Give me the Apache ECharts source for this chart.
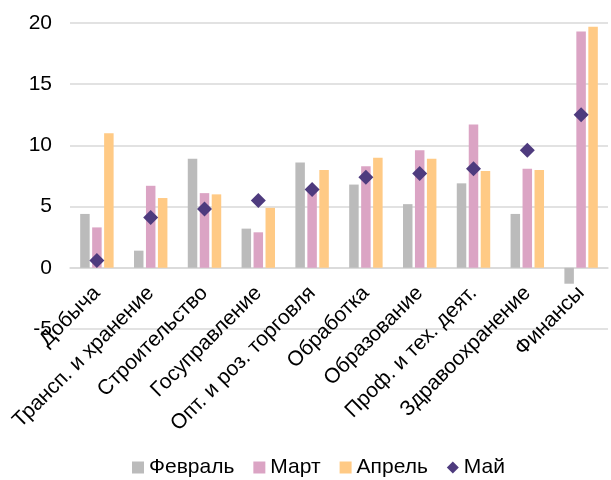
<!DOCTYPE html>
<html><head><meta charset="utf-8">
<script src="https://cdn.jsdelivr.net/npm/echarts@6/dist/echarts.min.js"></script>
<style>html,body{margin:0;padding:0;background:#fff}#c{width:611px;height:480px}</style>
</head><body><div id="c"></div>
<script>
const categories = ['Добыча','Трансп. и хранение','Строительство','Госуправление','Опт. и роз. торговля','Обработка','Образование','Проф. и тех. деят.','Здравоохранение','Финансы'];
const feb = [4.4, 1.4, 8.9, 3.2, 8.6, 6.8, 5.2, 6.9, 4.4, -1.3];
const mar = [3.3, 6.7, 6.1, 2.9, 6.2, 8.3, 9.6, 11.7, 8.1, 19.3];
const apr = [11.0, 5.7, 6.0, 4.9, 8.0, 9.0, 8.9, 7.9, 8.0, 19.7];
const may = [0.6, 4.1, 4.8, 5.5, 6.4, 7.4, 7.7, 8.1, 9.6, 12.5];
const yTicks = [-5, 0, 5, 10, 15, 20];

const font = 'Liberation Sans, Arial, sans-serif';
const gridTop = 23, gridBottom = 151, H = 480;
const plotH = H - gridTop - gridBottom;
const zeroOffset = plotH * (0 - yTicks[0]) / (yTicks[yTicks.length-1] - yTicks[0]);
const chart = echarts.init(document.getElementById('c'));
chart.setOption({
  animation: false,
  grid: {left: 70, right: 3, top: gridTop, bottom: gridBottom, containLabel: false},
  legend: {
    top: 452, left: 127, itemGap: 19, itemWidth: 12, itemHeight: 12,
    textStyle: {fontFamily: font, fontSize: 21, color: '#000'},
    data: [
      {name: 'Февраль', icon: 'rect'},
      {name: 'Март', icon: 'rect'},
      {name: 'Апрель', icon: 'rect'},
      {name: 'Май', icon: 'diamond'}
    ]
  },
  xAxis: {
    type: 'category', data: categories,
    offset: -zeroOffset,
    axisLine: {onZero: false, lineStyle: {color: '#d9d9d9', width: 1.5}},
    axisTick: {show: false},
    axisLabel: {rotate: 45, interval: 0, fontFamily: font, fontSize: 21, color: '#000', margin: 22}
  },
  yAxis: {
    type: 'value', min: yTicks[0], max: yTicks[yTicks.length-1], interval: 5,
    axisLine: {show: false}, axisTick: {show: false},
    splitLine: {lineStyle: {color: '#d9d9d9', width: 1.5}},
    axisLabel: {fontFamily: font, fontSize: 21, color: '#000', margin: 18}
  },
  series: [
    {name: 'Февраль', type: 'bar', data: feb, barWidth: 9.5, barGap: '26%', itemStyle: {color: '#bbbbbb'}},
    {name: 'Март', type: 'bar', data: mar, barWidth: 9.5, barGap: '26%', itemStyle: {color: '#dba4c4'}},
    {name: 'Апрель', type: 'bar', data: apr, barWidth: 9.5, barGap: '26%', itemStyle: {color: '#ffca85'}},
    {name: 'Май', type: 'scatter', data: may, symbol: 'diamond', symbolSize: 15, itemStyle: {color: '#4e3b7e', opacity: 1}, z: 5}
  ]
});
</script></body></html>
